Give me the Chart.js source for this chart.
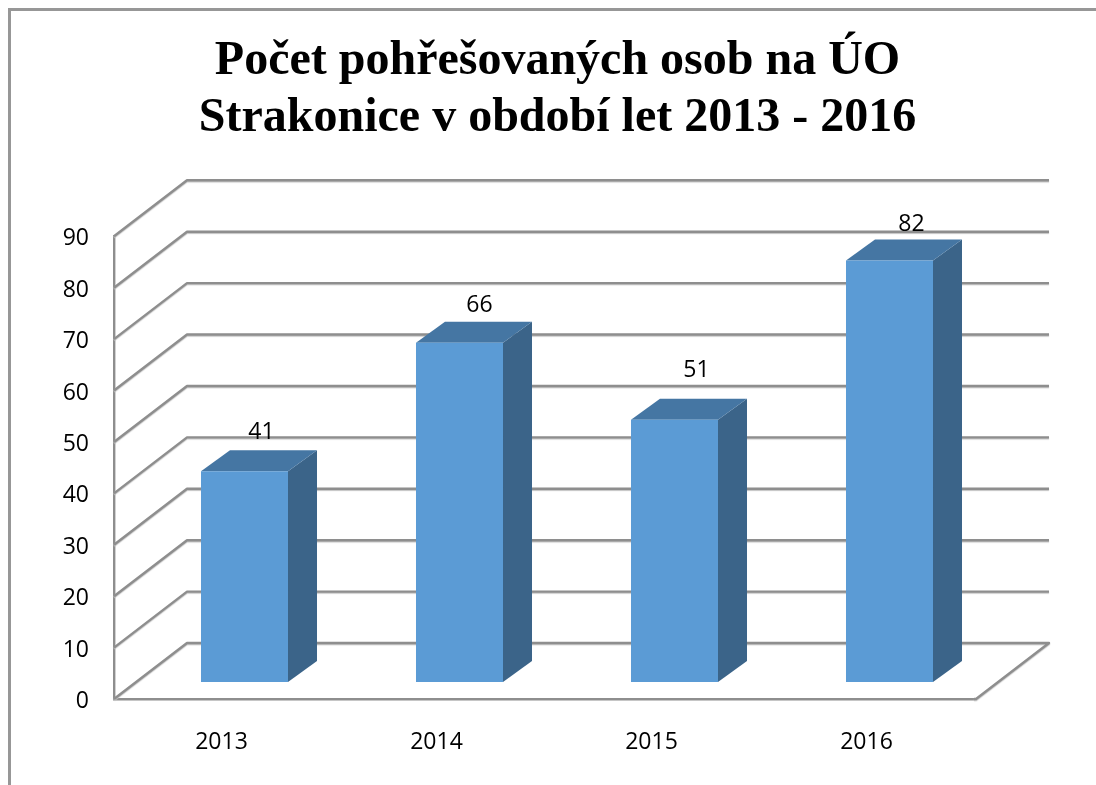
<!DOCTYPE html>
<html lang="cs">
<head>
<meta charset="utf-8">
<title>Počet pohřešovaných osob</title>
<script src="https://cdn.jsdelivr.net/npm/chart.js@4"></script>
<style>
html,body{margin:0;padding:0;background:#fff;width:1096px;height:785px;overflow:hidden}
#frame{position:absolute;left:8px;top:8px;right:0;bottom:0;border-left:3px solid #979797;border-top:3px solid #979797}
#wrap{position:absolute;left:0;top:0;width:1096px;height:785px}
</style>
</head>
<body>
<div id="frame"></div>
<div id="wrap"><canvas id="c" width="1096" height="785"></canvas></div>
<script>
const categories = ['2013', '2014', '2015', '2016'];
const values = [41, 66, 51, 82];
const yMax = 90;
const yStep = 10;
const titleLines = ['Počet pohřešovaných osob na ÚO', 'Strakonice v období let 2013 - 2016'];

const GRID = '#8e8e8e', TEXT = '#000';
const FRONT = '#5b9bd5', SIDE = '#3b6489', TOP = '#4576a3';
const WALL = {dx: 73, dy: -56}, BAR = {dx: 23, dy: -17}, DEPTH = {dx: 29, dy: -21};
const FLOOR_EXT = 2;
const TICK_FONT = {family: 'Open Sans', size: 23};
const labelShift = [[17, -39], [20, -37], [22, -49], [22, -36]];

const threeD = {
  id: 'threeD',
  beforeDatasetsDraw(chart) {
    const {ctx, scales: {x, y}} = chart;
    ctx.save();
    ctx.strokeStyle = GRID; ctx.lineWidth = 2.4; ctx.lineJoin = 'round';
    ctx.shadowColor = '#c4c4c4'; ctx.shadowOffsetY = 1; ctx.shadowBlur = 1;
    const right = x.right + FLOOR_EXT;
    for (let v = 0; v <= yMax; v += yStep) {
      const p = y.getPixelForValue(v);
      ctx.beginPath();
      ctx.moveTo(x.left, p);
      ctx.lineTo(x.left + WALL.dx, p + WALL.dy);
      ctx.lineTo(right + WALL.dx, p + WALL.dy);
      if (v === 0) { ctx.lineTo(right, p); ctx.lineTo(x.right, p); }
      ctx.stroke();
    }
    ctx.restore();
    ctx.save();
    ctx.translate(BAR.dx, BAR.dy);
    chart.getDatasetMeta(0).data.forEach(el => {
      const {x: cx, y: ty, base, width} = el.getProps(['x', 'y', 'base', 'width'], true);
      const l = cx - width / 2, r = cx + width / 2;
      ctx.fillStyle = SIDE;
      ctx.beginPath();
      ctx.moveTo(r, ty); ctx.lineTo(r + DEPTH.dx, ty + DEPTH.dy);
      ctx.lineTo(r + DEPTH.dx, base + DEPTH.dy); ctx.lineTo(r, base);
      ctx.closePath(); ctx.fill();
      ctx.fillStyle = TOP;
      ctx.beginPath();
      ctx.moveTo(l, ty); ctx.lineTo(l + DEPTH.dx, ty + DEPTH.dy);
      ctx.lineTo(r + DEPTH.dx, ty + DEPTH.dy); ctx.lineTo(r, ty);
      ctx.closePath(); ctx.fill();
    });
  },
  afterDatasetsDraw(chart) {
    const {ctx} = chart;
    ctx.restore();
    ctx.save();
    ctx.fillStyle = TEXT;
    ctx.font = `${TICK_FONT.size}px "${TICK_FONT.family}"`;
    ctx.textAlign = 'center'; ctx.textBaseline = 'middle';
    chart.getDatasetMeta(0).data.forEach((el, i) => {
      const {x: cx, y: ty} = el.getProps(['x', 'y'], true);
      ctx.fillText(String(values[i]), cx + BAR.dx + labelShift[i][0], ty + BAR.dy + labelShift[i][1]);
    });
    ctx.restore();
  }
};

new Chart(document.getElementById('c'), {
  type: 'bar',
  data: {
    labels: categories,
    datasets: [{
      data: values,
      backgroundColor: FRONT,
      borderWidth: 0,
      barPercentage: 0.4047,
      categoryPercentage: 1,
      clip: false
    }]
  },
  plugins: [threeD],
  options: {
    responsive: false,
    animation: false,
    layout: {padding: {left: 19, right: 0, top: 0, bottom: 0}},
    plugins: {
      legend: {display: false},
      tooltip: {enabled: false},
      title: {
        display: true,
        text: titleLines,
        color: TEXT,
        font: {family: 'Liberation Serif', size: 48, weight: 'bold', lineHeight: 1.17},
        padding: {top: 34, bottom: 90}
      }
    },
    scales: {
      x: {
        grid: {display: false, drawTicks: false},
        border: {color: GRID, width: 2.4},
        ticks: {color: TEXT, font: TICK_FONT, padding: 30},
        afterFit(s) { s.height = 86; }
      },
      y: {
        min: 0, max: yMax,
        grid: {display: false, drawTicks: false},
        border: {color: GRID, width: 2.4},
        ticks: {color: TEXT, font: TICK_FONT, padding: 25, stepSize: yStep, labelOffset: 2.5},
        afterFit(s) { s.width = 95; }
      },
      spacer: {
        type: 'linear',
        position: 'right',
        grid: {display: false, drawTicks: false},
        border: {display: false},
        ticks: {display: false},
        afterFit(s) { s.width = 122; }
      }
    }
  }
});
</script>
</body>
</html>
